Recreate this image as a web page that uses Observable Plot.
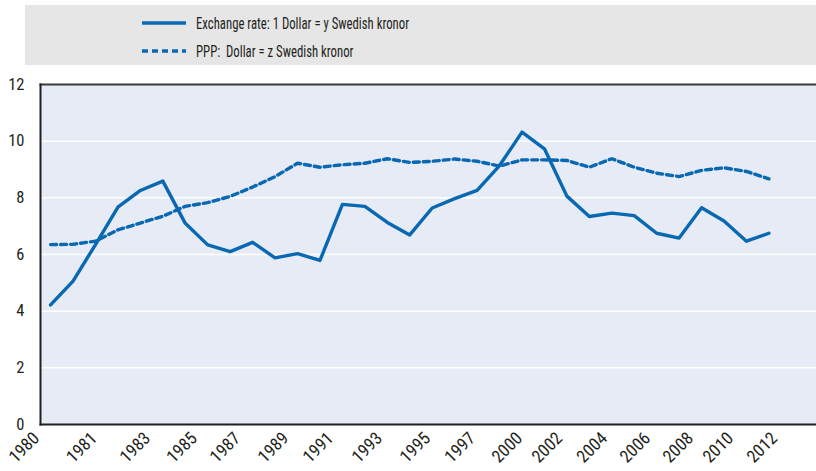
<!DOCTYPE html>
<html>
<head>
<meta charset="utf-8">
<script src="https://cdn.jsdelivr.net/npm/d3@7"></script>
<script src="https://cdn.jsdelivr.net/npm/@observablehq/plot@0.6"></script>
<style>
  html, body { margin: 0; padding: 0; background: #fff; overflow: hidden; }
  body { width: 816px; height: 471px; position: relative; font-family: "Liberation Sans Narrow", "Roboto Condensed", "Liberation Sans", sans-serif; color: #231f20; }
  #legend { position: absolute; left: 25px; top: 5px; width: 791px; height: 60px; background: #e6e6e6; }
  .row { position: absolute; left: 117px; height: 20px; display: flex; align-items: center; font-size: 17px; white-space: pre; }
  .row svg { margin-right: 10px; }
  .row span { display: inline-block; transform: scaleX(0.75); transform-origin: left center; }
  #chart { position: absolute; left: 0; top: 65px; }
</style>
</head>
<body>
<div id="legend"></div>
<div id="chart"></div>
<script>
const years = [1980,1981,1982,1983,1984,1985,1986,1987,1988,1989,1990,1991,1992,1993,1994,1995,1996,1997,1998,1999,2000,2001,2002,2003,2004,2005,2006,2007,2008,2009,2010,2011,2012];
const exchangeRate = [4.22,5.06,6.35,7.67,8.26,8.59,7.10,6.34,6.10,6.43,5.88,6.03,5.79,7.77,7.70,7.13,6.69,7.64,7.97,8.26,9.14,10.32,9.73,8.06,7.34,7.46,7.37,6.75,6.58,7.65,7.18,6.47,6.75];
const ppp = [6.35,6.36,6.47,6.87,7.11,7.35,7.70,7.83,8.05,8.38,8.75,9.22,9.08,9.17,9.22,9.38,9.25,9.29,9.37,9.29,9.12,9.34,9.34,9.32,9.08,9.38,9.08,8.87,8.75,8.97,9.06,8.93,8.67];
const seriesNames = ["Exchange rate: 1 Dollar = y Swedish kronor", "PPP:  Dollar = z Swedish kronor"];
const xTickLabels = ["1980","1981","1983","1985","1987","1989","1991","1993","1995","1997","2000","2002","2004","2006","2008","2010","2012"];
const xTickAt = [1979.73,1982.30,1984.68,1986.76,1988.69,1990.83,1992.83,1995.01,1997.15,1999.15,2001.25,2003.03,2005.03,2006.95,2008.87,2010.65,2012.61];
const yTicks = [0,2,4,6,8,10,12];

const blue = "#0868b2";
const dashes = [null, "6,4"];

// legend
const legend = document.getElementById("legend");
seriesNames.forEach((name, i) => {
  const row = document.createElement("div");
  row.className = "row";
  row.style.top = (8 + i * 28) + "px";
  row.innerHTML = `<svg width="44" height="8"><line x1="0" x2="44" y1="4" y2="4" stroke="${blue}" stroke-width="3.5" ${dashes[i] ? `stroke-dasharray="${dashes[i]}"` : ""}/></svg><span>${name}</span>`;
  legend.appendChild(row);
});

const data = years.flatMap((y, i) => [
  {year: y, value: exchangeRate[i], series: seriesNames[0]},
  {year: y, value: ppp[i], series: seriesNames[1]}
]);
const xTicks = xTickAt.map((t, i) => ({at: t, label: xTickLabels[i]}));

const chart = Plot.plot({
  width: 816,
  height: 406,
  marginTop: 19,
  marginBottom: 47,
  marginLeft: 40,
  marginRight: 0,
  style: {fontFamily: '"Liberation Sans Narrow", "Roboto Condensed", "Liberation Sans", sans-serif', fontSize: "16px", color: "#231f20", overflow: "visible", background: "transparent"},
  x: {domain: [1979.55, 2014.12], axis: null},
  y: {domain: [0, 12]},
  marks: [
    Plot.frame({fill: "#e6ebf6", stroke: null}),
    Plot.gridY(yTicks.filter(d => d > 0 && d < 12), {stroke: "#fff", strokeOpacity: 1, strokeWidth: 1.5}),
    Plot.axisY(yTicks, {tickSize: 0, tickPadding: 16, fontSize: 16.5, label: null}),
    Plot.text(xTicks, {x: "at", frameAnchor: "bottom", text: "label", rotate: -45, textAnchor: "end", lineAnchor: "top", dx: -13, dy: 6, fontSize: 17.5, fill: "#231f20"}),
    Plot.line(data.filter(d => d.series === seriesNames[0]), {x: "year", y: "value", stroke: blue, strokeWidth: 3.4}),
    Plot.line(data.filter(d => d.series === seriesNames[1]), {x: "year", y: "value", stroke: blue, strokeWidth: 3.4, strokeDasharray: "6,4"}),
    Plot.frame({anchor: "top", stroke: "#3a3a3a", strokeWidth: 2}),
    Plot.frame({anchor: "left", stroke: "#231f20", strokeWidth: 2}),
    Plot.frame({anchor: "bottom", stroke: "#231f20", strokeWidth: 2})
  ]
});
document.getElementById("chart").appendChild(chart);
</script>
</body>
</html>
